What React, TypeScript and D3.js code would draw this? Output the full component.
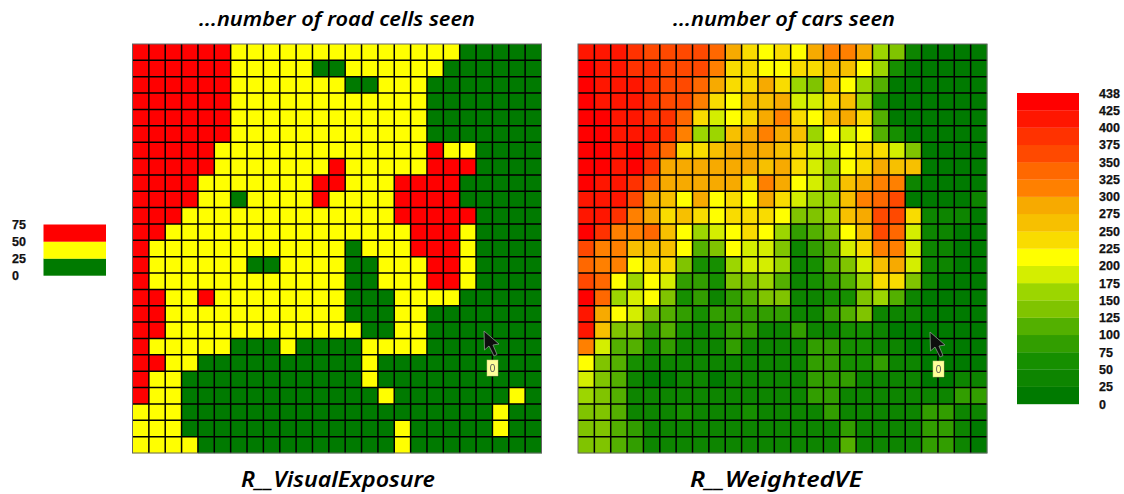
import React from "react";
import * as d3 from "d3";

// Left map: road cells seen, R = 50-75, Y = 25-50, G = 0-25
const roadRows = [
  "RRRRRRYYYYYYYYYYYYYYGGGGG",
  "RRRRRRYYYYYGGYYYYYYGGGGGG",
  "RRRRRRYYYYYYYGGYYYGGGGGGG",
  "RRRRRRYYYYYYYYYYYYGGGGGGG",
  "RRRRRRYYYYYYYYYYYYGGGGGGG",
  "RRRRRRYYYYYYYYYYYYGGGGGGG",
  "RRRRRYYYYYYYYYYYYYRYYGGGG",
  "RRRRRYYYYYYYRYYYYYRRRGGGG",
  "RRRRYYYYYYYRRYYYRRRRGGGGG",
  "RRRRYYGYYYYRYYYYRRRRGGGGG",
  "RRRYYYYYYYYYYYYYRRRRRGGGG",
  "RRYYYYYYYYYYYYYYYRRRYGGGG",
  "RYYYYYYYYYYYYGYYYRRRYGGGG",
  "RYYYYYYGGYYYYGGYYYRRYGGGG",
  "RYYYYYYYYYYYYGGYYYRRYGGGG",
  "RRYYRYYYYYYYYGGGYYYYGGGGG",
  "RRYYYYYYYYYYYGGGYYGGGGGGG",
  "RRYYYYYYYYYYYYGGYYGGGGGGG",
  "RYYYYYGGGYGGGGYYYYGGGGGGG",
  "RRYYGGGGGGGGGGYGGGGGGGGGG",
  "RYYGGGGGGGGGGGYGGGGGGGGGG",
  "RYYGGGGGGGGGGGGYGGGGGGGYG",
  "YYYGGGGGGGGGGGGGGGGGGGYGG",
  "YYYGGGGGGGGGGGGGYGGGGGYGG",
  "YYYYGGGGGGGGGGGGYGGGGGGGG",
];

// Right map: cars seen, one base-18 character per cell (class index, 25 units per class)
const carRows = [
  "gggfeeeedb9898bccb6510000",
  "hggffeeec998899aa86200000",
  "hgggfeedb99b965a864000000",
  "hgggfeec98aab779a62000000",
  "hhggffd9789bc98ab94000000",
  "hhgggfc66abcba68784200000",
  "hhghfd99abbba977899750000",
  "hhghfbbbbbbab97689baa0000",
  "hggfdbbbbb9cb876abcc10000",
  "gggeba8b898b9766acde00001",
  "ggfcb9a98999855" + "6abee91110",
  "hfccda8678986345" + "8aed71100",
  "eccaaa845877513" + "479cc71100",
  "dcc8995226776" + "12457ab71100",
  "ed8687332556" + "4123469951000",
  "hd67852313455" + "11225641" + "0000",
  "gb87543233333" + "11345111" + "0000",
  "ga55342123311" + "31122100" + "0000",
  "c74423111311" + "11332211" + "00000",
  "85421111111111" + "33223110" + "000",
  "75410011011111" + "33311110" + "011",
  "65411111111111" + "33111111" + "133",
  "55411121112111" + "13111113" + "311",
  "55431111111111" + "11311113" + "310",
  "55431111111111" + "11411113" + "310",
];

const roadThresholds = [25, 50];
const roadColors = ["#007a00", "#ffff00", "#ff0000"];
const roadValues: Record<string, number> = { G: 12, Y: 37, R: 62 };
const roadTicks = ["75", "50", "25", "0"];

const carThresholds = d3.range(1, 18).map((i) => i * 25);
const carColors = [
  "#007a00", "#0c8500", "#178f00", "#339e00", "#52b000", "#80c400",
  "#9cd600", "#d4ee00", "#ffff00", "#f9dc00", "#f7c000", "#f7aa00",
  "#ff8000", "#ff6800", "#ff4800", "#ff3000", "#ff1400", "#ff0000",
];
const carTicks = ["438", "425", "400", "375", "350", "325", "300", "275", "250", "225", "200", "175", "150", "125", "100", "75", "50", "25", "0"];

const carValue = (c: string) => parseInt(c, 18) * 25 + 12;
const roadGrid = roadRows.map((r) => r.split("").map((c) => roadValues[c]));
const carGrid = carRows.map((r) => r.split("").map(carValue));

const LABEL_FONT = "'Liberation Sans', Arial, sans-serif";
const TITLE_FONT = "'Noto Sans', 'Liberation Sans', sans-serif";

function Grid({ x, y, size, grid, color }: { x: number; y: number; size: number; grid: number[][]; color: (v: number) => string }) {
  const sx = d3.scaleBand<number>().domain(d3.range(25)).range([x, x + size]);
  const sy = d3.scaleBand<number>().domain(d3.range(25)).range([y, y + size]);
  return (
    <g filter="url(#soft)">
      {grid.map((row, r) =>
        row.map((v, c) => (
          <rect key={`${r}-${c}`} x={sx(c)} y={sy(r)} width={sx.bandwidth() + 0.3} height={sy.bandwidth() + 0.3} fill={color(v)} />
        ))
      )}
      {d3.range(1, 25).map((i) => (
        <g key={i} stroke="#000" strokeWidth={1.5}>
          <line x1={sx(i)} x2={sx(i)} y1={y} y2={y + size} />
          <line x1={x} x2={x + size} y1={sy(i)} y2={sy(i)} />
        </g>
      ))}
      <rect x={x} y={y} width={size} height={size} fill="none" stroke="#666" strokeWidth={1} />
    </g>
  );
}

function Legend({ x, y, w, h, colors, ticks, labelX }: { x: number; y: number; w: number; h: number; colors: string[]; ticks: string[]; labelX: number }) {
  const n = colors.length;
  const sy = d3.scaleLinear().domain([0, n]).range([y + h, y]);
  const sl = d3.scalePoint<string>().domain(ticks).range([y, y + h]);
  return (
    <g>
      <g filter="url(#soft)">
        {colors.map((c, i) => (
          <rect key={c} x={x} y={sy(i + 1)} width={w} height={sy(i) - sy(i + 1) + 0.2} fill={c} />
        ))}
      </g>
      {ticks.map((t) => (
        <text key={t} x={labelX} y={sl(t)} dy="0.36em" fontFamily={LABEL_FONT} fontWeight="bold" fontSize={12.5} fill="#111" stroke="#111" strokeWidth={0.25}>
          {t}
        </text>
      ))}
    </g>
  );
}

function Pointer({ x, y, tipX, tipY }: { x: number; y: number; tipX: number; tipY: number }) {
  const shape = d3.line()([
    [x, y], [x + 0.5, y + 19], [x + 5, y + 15], [x + 10, y + 25], [x + 13, y + 23.5], [x + 9, y + 14], [x + 15, y + 13],
  ]) + "Z";
  return (
    <g filter="url(#soft)">
      <path d={shape} fill="#111" stroke="#8a9a8a" strokeWidth={0.8} />
      <rect x={tipX + 1} y={tipY + 1} width={11} height={16} fill="#003c00" opacity={0.5} />
      <rect x={tipX} y={tipY} width={11} height={16} fill="#ffff99" stroke="#c8c880" strokeWidth={0.5} />
      <text x={tipX + 5.5} y={tipY + 8.3} dy="0.36em" textAnchor="middle" fontFamily={LABEL_FONT} fontSize={10} fill="#555">0</text>
    </g>
  );
}

function Title({ x, y, size, len, text }: { x: number; y: number; size: number; len: number; text: string }) {
  return (
    <text x={x} y={y} textAnchor="middle" fontFamily={TITLE_FONT} fontStyle="italic" fontSize={size} fontWeight={600} fill="#000" textLength={len} lengthAdjust="spacingAndGlyphs">
      {text}
    </text>
  );
}

export default function App() {
  const roadColor = d3.scaleThreshold<number, string>().domain(roadThresholds).range(roadColors);
  const carColor = d3.scaleThreshold<number, string>().domain(carThresholds).range(carColors);
  return (
    <svg width={1124} height={494} style={{ position: "absolute", left: 0, top: 0, display: "block", background: "#fff" }}>
      <defs>
        <filter id="soft" x="-2%" y="-2%" width="104%" height="104%">
          <feGaussianBlur stdDeviation="0.3" />
        </filter>
      </defs>
      <Grid x={132.5} y={44} size={409} grid={roadGrid} color={roadColor} />
      <Grid x={578} y={44} size={409} grid={carGrid} color={carColor} />
      <Legend x={43.5} y={224.5} w={62.5} h={51} colors={roadColors} ticks={roadTicks} labelX={12} />
      <Legend x={1017} y={93} w={62} h={311} colors={carColors} ticks={carTicks} labelX={1099} />
      <Pointer x={484} y={331} tipX={487} tipY={360} />
      <Pointer x={930} y={332} tipX={933} tipY={361} />
      <Title x={337} y={26} size={19.5} len={276} text="...number of road cells seen" />
      <Title x={784} y={26} size={19.5} len={222} text="...number of cars seen" />
      <Title x={338} y={487} size={21} len={194} text="R__VisualExposure" />
      <Title x={776} y={487} size={21} len={172} text="R__WeightedVE" />
    </svg>
  );
}
